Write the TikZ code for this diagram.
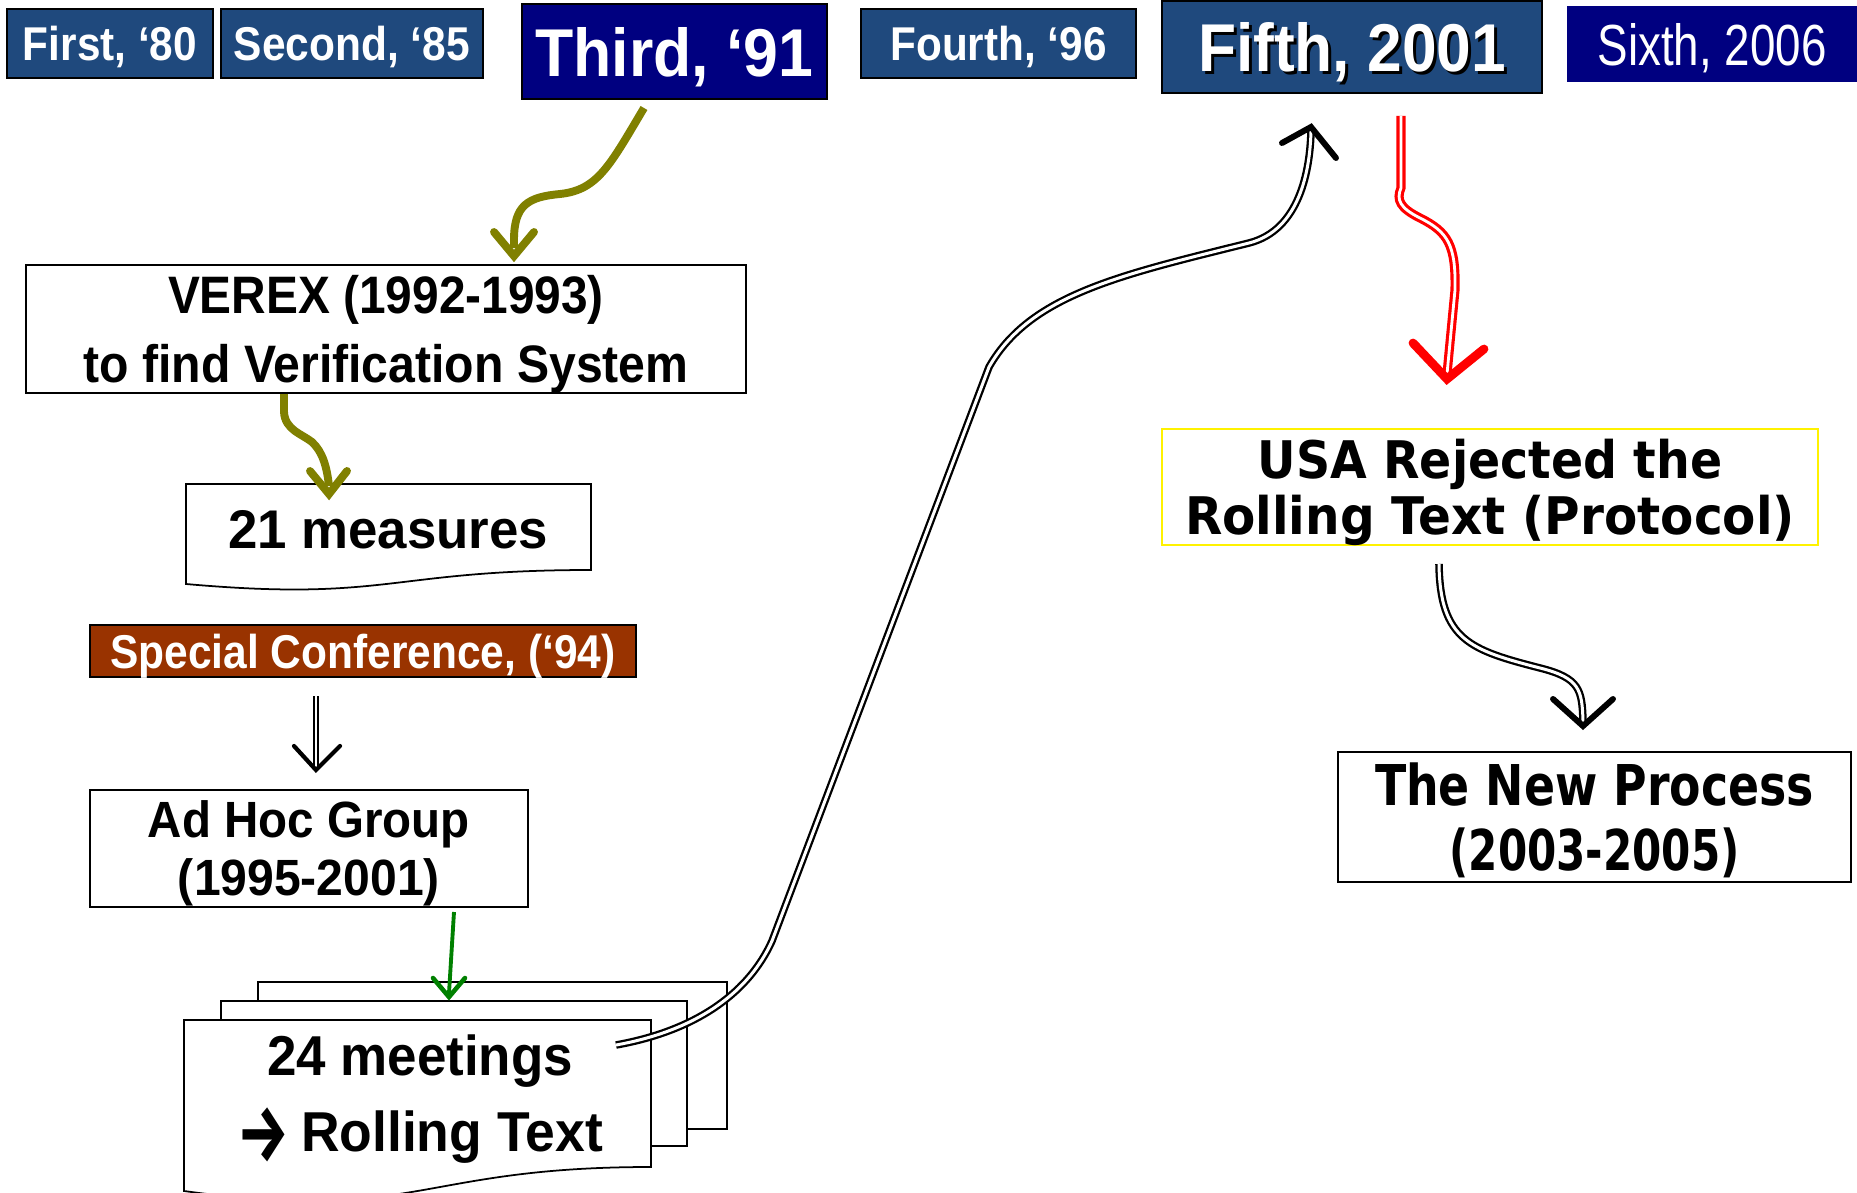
\documentclass[tikz,border=0pt]{standalone}
\usepackage{fontspec}
\setmainfont{Liberation Sans}
\newfontfamily\widefont{DejaVu Sans}
\newfontfamily\arrowfont{Fira Sans}
\usetikzlibrary{calc}
\newlength\upx
\setlength\upx{0.02cm}
% set a line of text to a given width (in picture units), keeping its height
\newcommand\fw[2]{\resizebox{#1\upx}{\height}{#2}}
\newcommand\fsz[2]{\fontsize{#1pt}{#2pt}\selectfont}
\definecolor{steel}{RGB}{31,73,125}
\definecolor{navyb}{RGB}{0,0,128}
\definecolor{rust}{RGB}{153,51,0}
\definecolor{olivea}{RGB}{128,128,0}
\definecolor{greena}{RGB}{0,128,0}
\begin{document}
\begin{tikzpicture}[x=0.02cm,y=-0.02cm,
  every node/.append style={text depth=0pt},
  box/.style={draw=black, line width=1pt, inner sep=0pt, align=center},
  yearbox/.style={box, line width=1.3pt, fill=steel, text=white, font=\bfseries\fsz{27}{32}},
  whitebox/.style={box, fill=white},
  sheet/.style={draw=black, line width=1pt, fill=white},
  olivearr/.style={draw=olivea, line width=4.5pt},
  olivetip/.style={draw=olivea, line width=4.5pt, line cap=round, line join=miter},
  greenarr/.style={draw=greena, line width=2.2pt},
  greentip/.style={draw=greena, line width=2.6pt, line cap=round, line join=miter},
  dblthin/.style={draw=black, line width=0.8pt, double=white, double distance=1.3pt},
  thintip/.style={draw=black, line width=2.4pt, line cap=round, line join=miter},
  dblblack/.style={draw=black, line width=1.3pt, double=white, double distance=1.7pt},
  blacktip/.style={draw=black, line width=3.4pt, line cap=round, line join=miter},
  dblred/.style={draw=red, line width=1.8pt, double=white, double distance=1.6pt},
  redtip/.style={draw=red, line width=5pt, line cap=round, line join=miter},
]
\fill[white] (0,0) rectangle (1857,1193);
\useasboundingbox (0,0) rectangle (1857,1193);

% ---- review conferences along the top ----
\node[yearbox, minimum width=206*\upx, minimum height=69*\upx] (first) at (110,43.5) {\fw{174}{First, ‘80}};
\node[yearbox, minimum width=262*\upx, minimum height=69*\upx] (second) at (352,43.5) {\fw{236}{Second, ‘85}};
\node[yearbox, fill=navyb, minimum width=305*\upx, minimum height=95*\upx, font=\bfseries\fsz{38.5}{44}] (third) at (674.5,51.5) {\fw{278}{Third, ‘91}};
\node[yearbox, minimum width=275*\upx, minimum height=69*\upx] (fourth) at (998.5,43.5) {\fw{216}{Fourth, ‘96}};
\node[yearbox, minimum width=380*\upx, minimum height=92*\upx] (fifth) at (1352,47) {};
\node[text=black, font=\bfseries\fsz{38.5}{44}] (fifthshadow) at (1355,50) {\fw{308}{Fifth, 2001}};
\node[text=white, font=\bfseries\fsz{38.5}{44}] (fifthtext) at (1352,47) {\fw{308}{Fifth, 2001}};
\node[fill=navyb, text=white, inner sep=0pt, minimum width=290*\upx, minimum height=76*\upx, font=\fsz{33}{38}] (sixth) at (1712,44) {\fw{229}{Sixth, 2006}};

% ---- left column ----
\node[whitebox, minimum width=720*\upx, minimum height=128*\upx, font=\bfseries\fsz{30}{39}] (verex) at (386,329)
  {\fw{436}{VEREX (1992-1993)}\\\fw{605}{to find Verification System}};

\draw[sheet] (186,484) -- (591,484) -- (591,570) .. controls (388.5,570) and (388.5,602) .. (186,584) -- cycle;
\node[font=\bfseries\fsz{31}{36}] (measures) at (388,529) {\fw{320}{21 measures}};

\node[box, fill=rust, text=white, line width=1.3pt, minimum width=546*\upx, minimum height=52*\upx, font=\bfseries\fsz{27}{32}] (special) at (363,651)
  {\fw{505}{Special Conference, (‘94)}};

\node[whitebox, minimum width=438*\upx, minimum height=117*\upx, font=\bfseries\fsz{29}{33}] (adhoc) at (309,848.5)
  {\fw{322}{Ad Hoc Group}\\\fw{262}{(1995-2001)}};

% stack of meeting sheets
\draw[sheet] (258,982) rectangle (727,1129);
\draw[sheet] (221,1001) rectangle (687,1146);
\draw[sheet] (184,1020) -- (651,1020) -- (651,1167) .. controls (417.5,1167) and (417.5,1223) .. (184,1191) -- cycle;
\node[font=\bfseries\fsz{32}{43}, align=center] (meetings) at (420,1093)
  {\fw{306}{24 meetings}\\\raisebox{-10\upx}{\scalebox{1}[1.4]{\resizebox{52\upx}{!}{\arrowfont\bfseries →}}}\hspace{12\upx}\fw{302}{Rolling Text}};

% ---- right column ----
\node[box, draw=yellow, line width=1.1pt, fill=white, minimum width=656*\upx, minimum height=116*\upx, font=\widefont\bfseries\fsz{29.5}{32}] (usa) at (1490,487)
  {\fw{465}{USA Rejected the}\\\fw{610}{Rolling Text (Protocol)}};

\node[whitebox, minimum width=513*\upx, minimum height=130*\upx, font=\widefont\bfseries\fsz{32}{37}] (newproc) at (1594.5,817)
  {\fw{439}{The New Process}\\\fw{290}{(2003-2005)}};

% ---- connector end points ----
\coordinate (thirdout) at (644,108);
\coordinate (verexin) at (514,256);
\coordinate (verexout) at (284,394);
\coordinate (measuresin) at (329,494);
\coordinate (specialout) at (316,696);
\coordinate (adhocin) at (316,770);
\coordinate (adhocout) at (454,912);
\coordinate (meetingsin) at (449,997);
\coordinate (meetingsout) at (616,1045);
\coordinate (fifthin) at (1311,127);
\coordinate (fifthout) at (1401,116);
\coordinate (usain) at (1447,379);
\coordinate (usaout) at (1439,564);
\coordinate (newprocin) at (1583,726);

% ---- connectors ----
\draw[olivearr] (thirdout) .. controls (610,165) and (598,190) .. (560,194) .. controls (528,197) and (514,205) .. (514,240) -- ($(verexin)+(0,-8)$);
\draw[olivetip] (494,232) -- (verexin) -- (534,232);

\draw[olivearr] (verexout) -- (284,412) .. controls (285,430) and (302,434) .. (312,442) .. controls (323,452) and (327,468) .. ($(measuresin)+(0,-8)$);
\draw[olivetip] (310,471) -- (measuresin) -- (347,471);

\draw[dblthin] (specialout) -- ($(adhocin)+(0,-4)$);
\draw[thintip] (294,746) -- (adhocin) -- (340,746);

\draw[greenarr] (adhocout) -- ($(meetingsin)+(0,-4)$);
\draw[greentip] (433,978) -- (meetingsin) -- (465,978);

\draw[dblblack] (meetingsout) .. controls (700,1030) and (750,990) .. (772,941) -- (989,367)
  .. controls (1030,295) and (1120,275) .. (1249,243) .. controls (1300,230) and (1310,170) .. ($(fifthin)+(0,4)$);
\draw[blacktip] (1282,143) -- (fifthin) -- (1336,158);

\draw[dblred] (fifthout) -- (1401,188) .. controls (1396,200) and (1400,208) .. (1420,218)
  .. controls (1448,232) and (1456,245) .. (1455,290) -- ($(usain)+(0,-5)$);
\draw[redtip] (1413,343) -- (usain) -- (1484,349);

\draw[dblblack] (usaout) .. controls (1440,640) and (1470,650) .. (1540,668) .. controls (1580,678) and (1582,690) .. ($(newprocin)+(0,-5)$);
\draw[blacktip] (1553,699) -- (newprocin) -- (1613,699);
\end{tikzpicture}
\end{document}
